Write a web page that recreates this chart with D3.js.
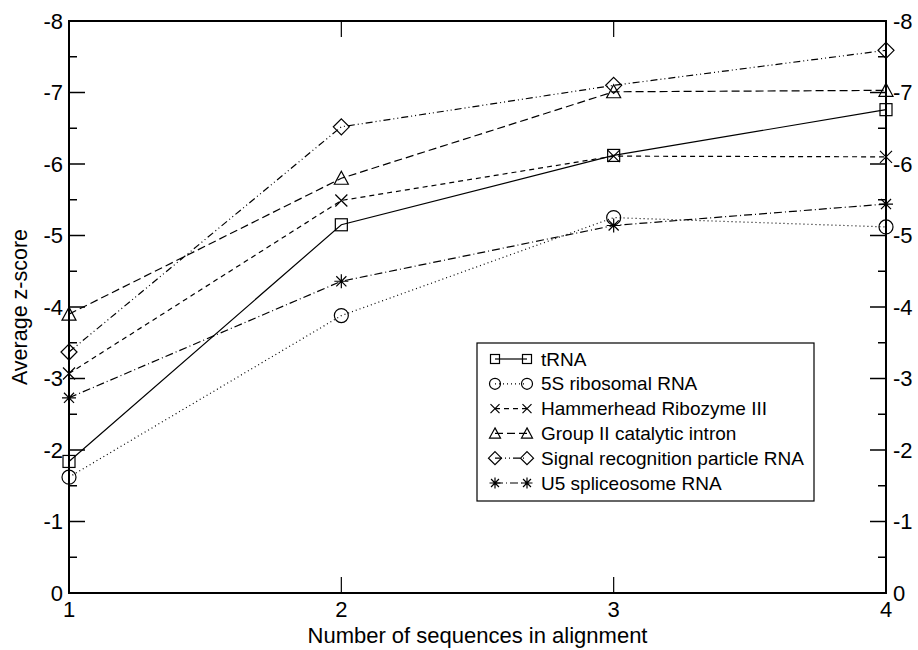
<!DOCTYPE html>
<html><head><meta charset="utf-8">
<script src="https://cdn.jsdelivr.net/npm/d3@7"></script>
<style>body{margin:0;background:#fff}svg{display:block}text{font-family:"Liberation Sans",Arial,sans-serif;fill:#000}</style>
</head><body><div id="c"></div>
<script>
const xValues = [1, 2, 3, 4];
const xTicks = [1, 2, 3, 4];
const yTicks = [0, -1, -2, -3, -4, -5, -6, -7, -8];
const yMinor = [-0.5, -1.5, -2.5, -3.5, -4.5, -5.5, -6.5, -7.5];
const seriesNames = ["tRNA", "5S ribosomal RNA", "Hammerhead Ribozyme III", "Group II catalytic intron", "Signal recognition particle RNA", "U5 spliceosome RNA"];
const tRNA = [-1.84, -5.15, -6.12, -6.76];
const s5S = [-1.62, -3.88, -5.25, -5.12];
const hammerhead = [-3.07, -5.49, -6.11, -6.10];
const groupII = [-3.90, -5.80, -7.01, -7.03];
const srp = [-3.37, -6.52, -7.10, -7.59];
const u5 = [-2.73, -4.36, -5.14, -5.44];
const seriesValues = [tRNA, s5S, hammerhead, groupII, srp, u5];
const dashes = [null, "1,3", "5,4", "8,4", "7,3,1,3,1,3", "8,3,1,3"];
const symbols = ["square", "circle", "cross", "triangle", "diamond", "star"];

const W = 918, H = 650;
const m = {l: 69, r: 918 - 886, t: 21, b: 650 - 593};
const svg = d3.select("#c").append("svg").attr("width", W).attr("height", H);
const x = d3.scaleLinear().domain([1, 4]).range([m.l, W - m.r]);
const y = d3.scaleLinear().domain([0, -8]).range([H - m.b, m.t]);

function drawSymbol(g, type, cx, cy, s) {
  const st = {fill: "none", stroke: "#000", "stroke-width": 1.2};
  let el;
  if (type === "square") el = g.append("rect").attr("x", cx - s/2).attr("y", cy - s/2).attr("width", s).attr("height", s);
  else if (type === "circle") el = g.append("circle").attr("cx", cx).attr("cy", cy).attr("r", s/2 + 1);
  else if (type === "cross") { const h = s/2; el = g.append("path").attr("d", `M${cx-h},${cy-h}L${cx+h},${cy+h}M${cx-h},${cy+h}L${cx+h},${cy-h}`); }
  else if (type === "triangle") { const h = s/2 + 1; el = g.append("path").attr("d", `M${cx},${cy-h}L${cx+h},${cy+h*0.85}L${cx-h},${cy+h*0.85}Z`); }
  else if (type === "diamond") { const h = s/2 + 2; el = g.append("path").attr("d", `M${cx},${cy-h}L${cx+h},${cy}L${cx},${cy+h}L${cx-h},${cy}Z`); }
  else if (type === "star") { const h = s/2 + 1, d = h * 0.72; el = g.append("path").attr("d", `M${cx-h},${cy}L${cx+h},${cy}M${cx},${cy-h}L${cx},${cy+h}M${cx-d},${cy-d}L${cx+d},${cy+d}M${cx-d},${cy+d}L${cx+d},${cy-d}`); }
  Object.entries(st).forEach(([k, v]) => el.attr(k, v));
}

// Axes frame and ticks
const ax = svg.append("g").attr("stroke", "#000");
const x0 = x.range()[0], x1 = x.range()[1], y0 = y.range()[0], y1 = y.range()[1];
yTicks.forEach(t => {
  ax.append("line").attr("x1", x0).attr("x2", x0 + 16).attr("y1", y(t)).attr("y2", y(t)).attr("stroke-width", 1.5);
  ax.append("line").attr("x1", x1).attr("x2", x1 - 16).attr("y1", y(t)).attr("y2", y(t)).attr("stroke-width", 1.5);
});
yMinor.forEach(t => {
  ax.append("line").attr("x1", x0).attr("x2", x0 + 8).attr("y1", y(t)).attr("y2", y(t)).attr("stroke-width", 1.5);
  ax.append("line").attr("x1", x1).attr("x2", x1 - 8).attr("y1", y(t)).attr("y2", y(t)).attr("stroke-width", 1.5);
});
xTicks.forEach(t => {
  ax.append("line").attr("x1", x(t)).attr("x2", x(t)).attr("y1", y0).attr("y2", y0 - 16).attr("stroke-width", 1.2);
  ax.append("line").attr("x1", x(t)).attr("x2", x(t)).attr("y1", y1).attr("y2", y1 + 16).attr("stroke-width", 1.2);
});
ax.append("rect").attr("x", x0).attr("y", y1).attr("width", x1 - x0).attr("height", y0 - y1).attr("fill", "none").attr("stroke-width", 2);

// Tick labels
const fs = 22;
yTicks.forEach(t => {
  svg.append("text").attr("x", x0 - 6).attr("y", y(t)).attr("dy", "0.35em").attr("text-anchor", "end").attr("font-size", fs).text(t);
  svg.append("text").attr("x", x1 + 7).attr("y", y(t)).attr("dy", "0.35em").attr("text-anchor", "start").attr("font-size", fs).text(t);
});
xTicks.forEach(t => {
  svg.append("text").attr("x", x(t)).attr("y", 617).attr("text-anchor", "middle").attr("font-size", fs).text(t);
});
svg.append("text").attr("x", (x0 + x1) / 2).attr("y", 643).attr("text-anchor", "middle").attr("font-size", 22).text("Number of sequences in alignment");
svg.append("text").attr("transform", `translate(27,${(y0 + y1) / 2}) rotate(-90)`).attr("text-anchor", "middle").attr("font-size", 21.5).text("Average z-score");

// Series
const line = d3.line().x((d, i) => x(xValues[i])).y(d => y(d));
seriesValues.forEach((vals, si) => {
  const g = svg.append("g");
  const p = g.append("path").datum(vals).attr("d", line).attr("fill", "none").attr("stroke", "#000").attr("stroke-width", 1.2);
  if (dashes[si]) p.attr("stroke-dasharray", dashes[si]);
  vals.forEach((v, i) => drawSymbol(g, symbols[si], x(xValues[i]), y(v), 12));
});

// Legend
const lg = svg.append("g");
lg.append("rect").attr("x", 477).attr("y", 343).attr("width", 337).attr("height", 158).attr("fill", "#fff").attr("stroke", "#000").attr("stroke-width", 1.2);
seriesNames.forEach((n, i) => {
  const ly = 359 + i * 24.8;
  const p = lg.append("line").attr("x1", 495).attr("x2", 527).attr("y1", ly).attr("y2", ly).attr("stroke", "#000").attr("stroke-width", 1.2);
  if (dashes[i]) p.attr("stroke-dasharray", dashes[i]);
  drawSymbol(lg, symbols[i], 495, ly, 9);
  drawSymbol(lg, symbols[i], 527, ly, 9);
  lg.append("text").attr("x", 541).attr("y", ly).attr("dy", "0.35em").attr("font-size", 19).text(n);
});
</script></body></html>
